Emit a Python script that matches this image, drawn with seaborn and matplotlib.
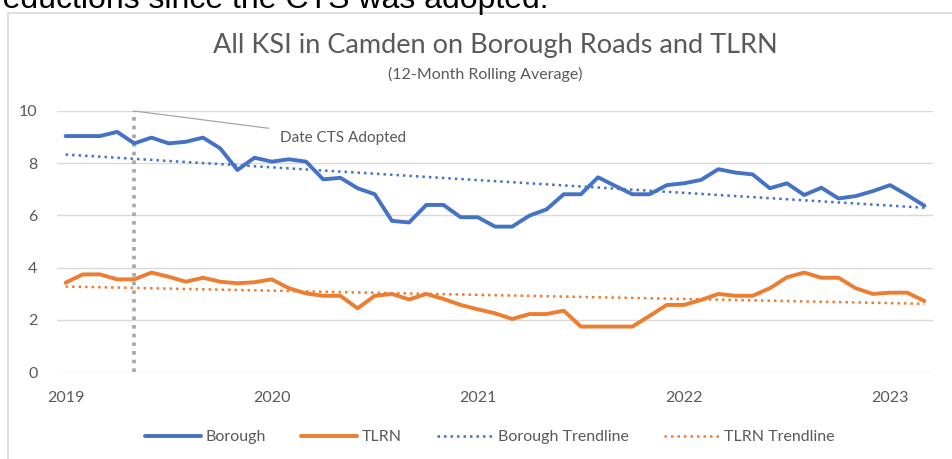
import numpy as np
import pandas as pd
import seaborn as sns
import matplotlib.pyplot as plt
from matplotlib.patches import Rectangle

# monthly 12-month rolling averages, Jan 2019 - Mar 2023
borough = [9.04, 9.04, 9.04, 9.20, 8.76, 8.98, 8.76, 8.82, 8.98, 8.57, 7.74, 8.21,
           8.06, 8.15, 8.06, 7.38, 7.44, 7.04, 6.81, 5.79, 5.73, 6.40, 6.40, 5.93,
           5.93, 5.57, 5.57, 5.99, 6.23, 6.81, 6.81, 7.46, 7.13, 6.81, 6.81, 7.16,
           7.23, 7.36, 7.77, 7.64, 7.57, 7.04, 7.23, 6.78, 7.06, 6.65, 6.74, 6.93,
           7.16, 6.78, 6.37]
tlrn = [3.42, 3.74, 3.74, 3.55, 3.55, 3.81, 3.65, 3.46, 3.61, 3.46, 3.40, 3.44,
        3.55, 3.21, 3.01, 2.92, 2.92, 2.44, 2.92, 2.99, 2.78, 2.99, 2.80, 2.57,
        2.40, 2.25, 2.03, 2.22, 2.22, 2.35, 1.74, 1.74, 1.74, 1.74, 2.15, 2.57,
        2.57, 2.76, 2.99, 2.92, 2.92, 3.21, 3.63, 3.81, 3.61, 3.61, 3.21, 2.99,
        3.04, 3.04, 2.72]
year_labels = ['2019', '2020', '2021', '2022', '2023']
cts_month = 4  # May 2019

months = np.arange(len(borough))
df = pd.DataFrame({'month': months, 'Borough': borough, 'TLRN': tlrn})

# linear trendlines (as Excel does)
df['Borough Trendline'] = np.polyval(np.polyfit(months, borough, 1), months)
df['TLRN Trendline'] = np.polyval(np.polyfit(months, tlrn, 1), months)

blue = '#4472C4'
orange = '#ED7D31'
grey_txt = '#595959'

sns.set_style('white')
plt.rcParams['font.family'] = ['Lato', 'DejaVu Sans']

fig = plt.figure(figsize=(9.52, 4.59), dpi=100)
ax = fig.add_axes([57 / 952, 1 - 372 / 459, 876 / 952, 261 / 459])

sns.lineplot(data=df, x='month', y='Borough', color=blue, lw=2.8, ax=ax, label='Borough')
sns.lineplot(data=df, x='month', y='TLRN', color=orange, lw=2.8, ax=ax, label='TLRN')
sns.lineplot(data=df, x='month', y='Borough Trendline', color=blue, lw=1.8,
             linestyle=(0, (1, 1.6)), ax=ax, label='Borough Trendline')
sns.lineplot(data=df, x='month', y='TLRN Trendline', color=orange, lw=1.8,
             linestyle=(0, (1, 1.6)), ax=ax, label='TLRN Trendline')

# CTS adoption marker
ax.vlines(cts_month, 0, 10, color='#A6A6A6', lw=2.6, linestyles=(0, (1, 1.4)), zorder=1)
ax.annotate('Date CTS Adopted', xy=(cts_month, 10), xytext=(12.5, 8.97),
            fontsize=11, color=grey_txt, va='center',
            arrowprops=dict(arrowstyle='-', color='#A6A6A6', lw=0.9,
                            shrinkA=6, shrinkB=0))

ax.set_xlim(-0.5, len(borough) - 0.5)
ax.set_ylim(0, 10)
ax.set_yticks(range(0, 11, 2))
ax.set_xticks(range(0, len(borough), 12))
ax.set_xticklabels(year_labels)
ax.tick_params(axis='both', length=0, labelsize=11.5, labelcolor=grey_txt)
ax.tick_params(axis='x', pad=14)
ax.tick_params(axis='y', pad=14)
ax.grid(axis='y', color='#D9D9D9', lw=1)
ax.set_axisbelow(True)
for s in ax.spines.values():
    s.set_visible(False)
ax.set_xlabel('')
ax.set_ylabel('')

handles, labels = ax.get_legend_handles_labels()
ax.get_legend().remove()
fig.legend(handles, labels, loc='center', bbox_to_anchor=(490 / 952, 1 - 437 / 459),
           ncol=4, frameon=False, fontsize=11.5, labelcolor=grey_txt,
           handlelength=3.5, handletextpad=0.3, columnspacing=2.2)

fig.text(495 / 952, 1 - 45 / 459, 'All KSI in Camden on Borough Roads and TLRN',
         ha='center', va='center', fontsize=19.5, color=grey_txt)
fig.text(485 / 952, 1 - 74 / 459, '(12-Month Rolling Average)',
         ha='center', va='center', fontsize=11.5, color=grey_txt)

# chart frame and the clipped sentence above it
frame_top = 1 - 13 / 459
fig.add_artist(Rectangle((8 / 952, -0.1), 1.1, frame_top + 0.1,
                         transform=fig.transFigure, fill=False,
                         ec='#D9D9D9', lw=1.2))
fig.text(548 / 952, 1 - 8 / 459, 'reductions since the CTS was adopted.',
         ha='right', va='baseline', fontsize=23, color='black',
         family=['Liberation Sans', 'DejaVu Sans'])

fig.savefig('out.png', dpi=100, facecolor='white')
